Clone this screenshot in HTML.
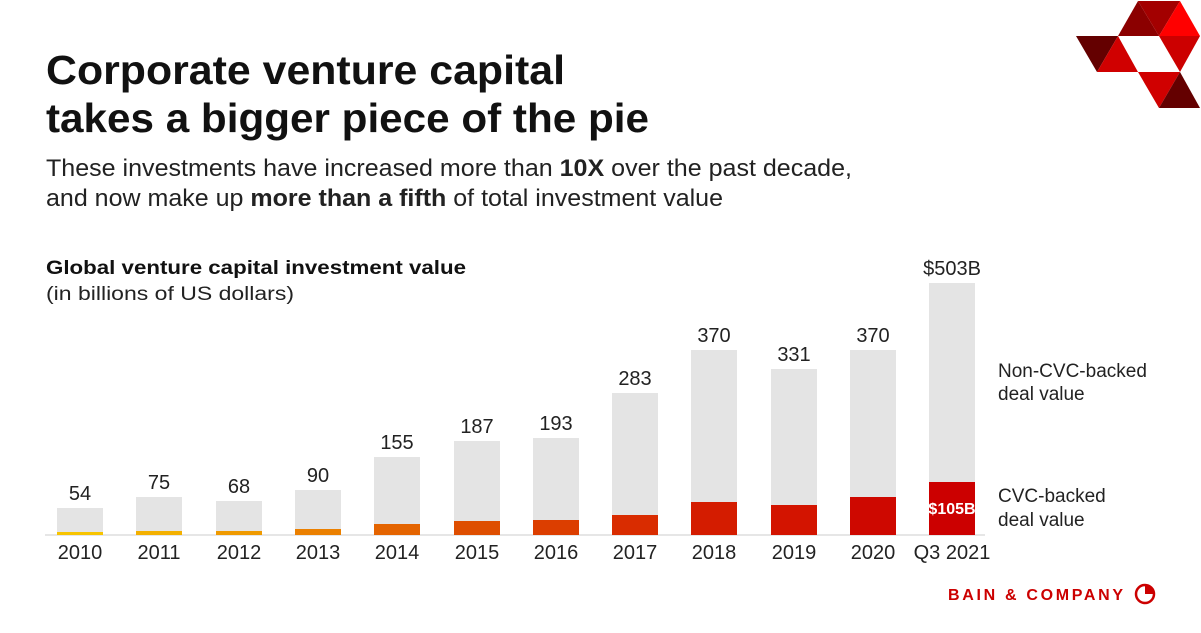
<!DOCTYPE html>
<html><head><style>
body{margin:0;width:1201px;height:628px;background:#fff;font-family:"Liberation Sans",sans-serif;overflow:hidden}
svg text{font-family:"Liberation Sans",sans-serif}
</style></head><body>
<svg width="1201" height="628" xmlns="http://www.w3.org/2000/svg">
<polygon points="1118,36 1138,1 1159,36" fill="#8b0000"/>
<polygon points="1138,1 1180,1 1159,36" fill="#a30000"/>
<polygon points="1159,36 1180,1 1200,36" fill="#ff0000"/>
<polygon points="1076,36 1118,36 1097,72" fill="#640000"/>
<polygon points="1097,72 1118,36 1138,72" fill="#d00000"/>
<polygon points="1159,36 1200,36 1180,72" fill="#cc0000"/>
<polygon points="1138,72 1180,72 1159,108" fill="#d00000"/>
<polygon points="1159,108 1180,72 1200,108" fill="#640000"/>
<text x="46" y="84" font-size="41" font-weight="bold" fill="#111" textLength="519" lengthAdjust="spacingAndGlyphs">Corporate venture capital</text>
<text x="46" y="132" font-size="41" font-weight="bold" fill="#111" textLength="603" lengthAdjust="spacingAndGlyphs">takes a bigger piece of the pie</text>
<text x="46" y="176" font-size="24" fill="#222" textLength="806" lengthAdjust="spacingAndGlyphs">These investments have increased more than <tspan font-weight="bold">10X</tspan> over the past decade,</text>
<text x="46" y="206" font-size="24" fill="#222" textLength="677" lengthAdjust="spacingAndGlyphs">and now make up <tspan font-weight="bold">more than a fifth</tspan> of total investment value</text>
<text x="46" y="274" font-size="19" font-weight="bold" fill="#111" textLength="420" lengthAdjust="spacingAndGlyphs">Global venture capital investment value</text>
<text x="46" y="300" font-size="19" fill="#222" textLength="248" lengthAdjust="spacingAndGlyphs">(in billions of US dollars)</text>
<line x1="45" y1="535" x2="985" y2="535" stroke="#ddd" stroke-width="1.5"/>
<g>
<rect x="57" y="508" width="46" height="27" fill="#e4e4e4"/>
<rect x="136" y="497" width="46" height="38" fill="#e4e4e4"/>
<rect x="216" y="501" width="46" height="34" fill="#e4e4e4"/>
<rect x="295" y="490" width="46" height="45" fill="#e4e4e4"/>
<rect x="374" y="457" width="46" height="78" fill="#e4e4e4"/>
<rect x="454" y="441" width="46" height="94" fill="#e4e4e4"/>
<rect x="533" y="438" width="46" height="97" fill="#e4e4e4"/>
<rect x="612" y="393" width="46" height="142" fill="#e4e4e4"/>
<rect x="691" y="350" width="46" height="185" fill="#e4e4e4"/>
<rect x="771" y="369" width="46" height="166" fill="#e4e4e4"/>
<rect x="850" y="350" width="46" height="185" fill="#e4e4e4"/>
<rect x="929" y="283" width="46" height="252" fill="#e4e4e4"/>
</g>
<g>
<rect x="57" y="532" width="46" height="3" fill="#f7c400"/>
<rect x="136" y="531" width="46" height="4" fill="#f3b000"/>
<rect x="216" y="531" width="46" height="4" fill="#ef9a00"/>
<rect x="295" y="529" width="46" height="6" fill="#eb8000"/>
<rect x="374" y="524" width="46" height="11" fill="#e46400"/>
<rect x="454" y="521" width="46" height="14" fill="#de4e00"/>
<rect x="533" y="520" width="46" height="15" fill="#dc3e00"/>
<rect x="612" y="515" width="46" height="20" fill="#d92c00"/>
<rect x="691" y="502" width="46" height="33" fill="#d41c00"/>
<rect x="771" y="505" width="46" height="30" fill="#d31400"/>
<rect x="850" y="497" width="46" height="38" fill="#ce0800"/>
<rect x="929" y="482" width="46" height="53" fill="#cc0000"/>
</g>
<g font-size="20" fill="#222" text-anchor="middle">
<text x="80" y="500">54</text><text x="159" y="489">75</text><text x="239" y="493">68</text>
<text x="318" y="482">90</text><text x="397" y="449">155</text><text x="477" y="433">187</text>
<text x="556" y="430">193</text><text x="635" y="385">283</text><text x="714" y="342">370</text>
<text x="794" y="361">331</text><text x="873" y="342">370</text><text x="952" y="275">$503B</text>
<text x="80" y="559">2010</text><text x="159" y="559">2011</text><text x="239" y="559">2012</text>
<text x="318" y="559">2013</text><text x="397" y="559">2014</text><text x="477" y="559">2015</text>
<text x="556" y="559">2016</text><text x="635" y="559">2017</text><text x="714" y="559">2018</text>
<text x="794" y="559">2019</text><text x="873" y="559">2020</text><text x="952" y="559">Q3 2021</text>
</g>
<text x="952" y="514" font-size="16" font-weight="bold" fill="#fff" text-anchor="middle">$105B</text>
<g font-size="19" fill="#222">
<text x="998" y="377">Non-CVC-backed</text><text x="998" y="400">deal value</text>
<text x="998" y="502">CVC-backed</text><text x="998" y="526">deal value</text>
</g>
<text x="948" y="600" font-size="16" font-weight="bold" fill="#cc0000" textLength="175" lengthAdjust="spacing">BAIN &amp; COMPANY</text>
<circle cx="1145" cy="594" r="9" fill="none" stroke="#cc0000" stroke-width="2.5"/>
<path d="M1145,594 L1145,585 A9,9 0 0 1 1154,594 Z" fill="#cc0000"/>
</svg>
</body></html>
